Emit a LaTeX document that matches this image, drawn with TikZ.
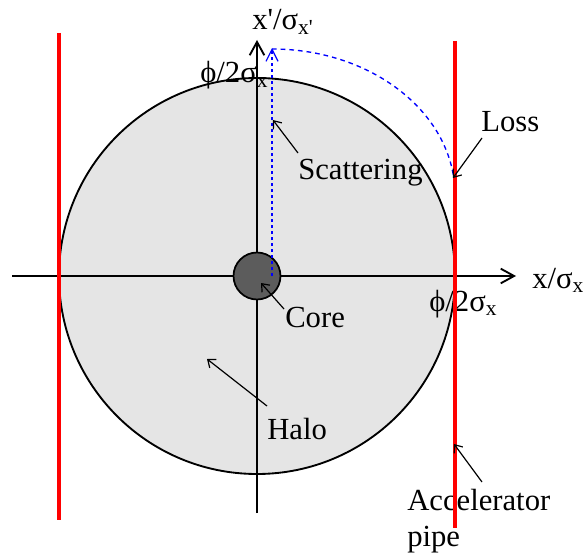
\documentclass[tikz,border=0pt]{standalone}
\usepackage{fontspec}
\setmainfont{Liberation Serif}[Ligatures=TeXOff]
\usetikzlibrary{arrows.meta}

\begin{document}
\begin{tikzpicture}[x=0.75pt,y=-0.75pt,>={Straight Barb[length=5pt,width=8pt]}]

% ---------- styles ----------
\tikzset{
  axis/.style={-{Straight Barb[length=10pt,width=11pt]}, line width=1.4pt},
  pipe/.style={red, line width=2.3pt},
  lbl/.style={font=\fontsize{23}{26.5}\selectfont, inner sep=0pt, anchor=base west},
  pointer/.style={->, line width=0.9pt}
}

\useasboundingbox (0,0) rectangle (584,556);

% ---------- halo and core ----------
\coordinate (O) at (257,276);
\fill[gray!20] (O) circle (198);
\draw[line width=1.4pt] (O) circle (198);

% ---------- axes ----------
\coordinate (xstart) at (12,276);
\coordinate (xend) at (516,276);
\coordinate (ystart) at (257,513);
\coordinate (yend) at (257,40);
\draw[axis] (xstart) -- (xend);
\draw[axis] (ystart) -- (yend);

\filldraw[fill=black!64, line width=1.3pt] (O) circle (23.5);

% ---------- scattered particle ----------
\coordinate (kick) at (272,276);
\coordinate (kicktop) at (272,48);
\draw[blue, line width=1.8pt, dash pattern=on 2pt off 2.5pt, -{Straight Barb[length=9pt,width=9pt,line width=0.9pt]}] (kick) -- (kicktop);
\draw[blue, line width=1pt, dash pattern=on 3.5pt off 3pt] (272,49) arc[start angle=-90, end angle=0, x radius=183, y radius=146];

% ---------- labels ----------
\node[lbl] (ylab) at (252,30) {x'/σ\textsubscript{x'}};
\node[lbl] (xlab) at (532,288) {x/σ\textsubscript{x}};
\node[lbl] (phitop) at (200,83) {ϕ/2σ\textsubscript{x}};
\node[lbl] (phiright) at (429,311) {ϕ/2σ\textsubscript{x}};
\node[lbl] (loss) at (481,132) {Loss};
\node[lbl] (scat) at (298,179) {Scattering};
\node[lbl] (core) at (285,327) {Core};
\node[lbl] (halo) at (267,439) {Halo};
\node[lbl, align=left] (accel) at (407,546) {Accelerator\\pipe};

% ---------- pipe walls ----------
\draw[pipe] (59,33) -- (59,520);
\draw[pipe] (455,41) -- (455,528);

% ---------- pointers ----------
\coordinate (losstip) at (453,178);
\coordinate (scattip) at (273,120);
\coordinate (coretip) at (261,283);
\coordinate (halotip) at (207,359);
\coordinate (pipetip) at (454,444);
\draw[pointer] (482,138) -- (losstip);
\draw[pointer] (298,153) -- (scattip);
\draw[pointer] (284,309) -- (coretip);
\draw[pointer] (267,406) -- (halotip);
\draw[pointer] (482,482) -- (pipetip);

\end{tikzpicture}
\end{document}
